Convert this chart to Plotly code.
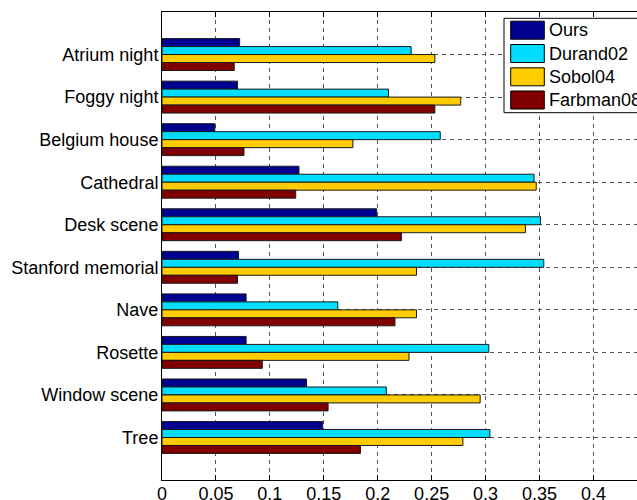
import plotly.graph_objects as go

# Scenes, listed top to bottom
scenes = ["Atrium night", "Foggy night", "Belgium house", "Cathedral", "Desk scene",
          "Stanford memorial", "Nave", "Rosette", "Window scene", "Tree"]

ours = [0.072, 0.070, 0.049, 0.127, 0.199, 0.071, 0.078, 0.078, 0.134, 0.149]
durand02 = [0.231, 0.210, 0.258, 0.345, 0.351, 0.354, 0.163, 0.303, 0.208, 0.304]
sobol04 = [0.253, 0.277, 0.177, 0.347, 0.337, 0.236, 0.236, 0.229, 0.295, 0.279]
farbman08 = [0.067, 0.253, 0.076, 0.124, 0.222, 0.070, 0.216, 0.093, 0.154, 0.184]

series_names = ["Ours", "Durand02", "Sobol04", "Farbman08"]
series_values = [ours, durand02, sobol04, farbman08]
series_colors = ["#000090", "#00DDFF", "#FFCC00", "#800000"]

x_ticks = [0, 0.05, 0.1, 0.15, 0.2, 0.25, 0.3, 0.35, 0.4]

W, H = 637, 500
ML, MR, MT, MB = 162, 0, 12, 20
PW, PH = W - ML - MR, H - MT - MB
FONT = dict(family="Liberation Sans, Arial, sans-serif", size=18, color="black")

fig = go.Figure()
for name, vals, col in zip(series_names, series_values, series_colors):
    fig.add_trace(go.Bar(
        y=scenes, x=vals, name=name, orientation="h",
        marker=dict(color=col, line=dict(color="#1a1a1a", width=1)),
        showlegend=False,
    ))

# Legend drawn as a boxed key in the upper right corner
def px_x(px):
    return (px - ML) / PW

def px_y(py):
    return (H - MB - py) / PH

shapes = [dict(type="rect", xref="paper", yref="paper",
               x0=px_x(504), x1=px_x(700), y0=px_y(112.7), y1=px_y(18.3),
               fillcolor="white", line=dict(color="black", width=1), layer="above")]
annotations = []
row_centers = [30.2, 53.5, 76.8, 100.0]
for name, col, cy in zip(series_names, series_colors, row_centers):
    shapes.append(dict(type="rect", xref="paper", yref="paper",
                       x0=px_x(510.7), x1=px_x(544.3), y0=px_y(cy + 9), y1=px_y(cy - 9),
                       fillcolor=col, line=dict(color="black", width=1), layer="above"))
    annotations.append(dict(xref="paper", yref="paper", x=px_x(546.5), y=px_y(cy),
                            text=name, showarrow=False, xanchor="left", yanchor="middle",
                            font=FONT))

fig.update_layout(
    width=W, height=H,
    margin=dict(l=ML, r=MR, t=MT, b=MB, autoexpand=False),
    paper_bgcolor="white", plot_bgcolor="white",
    barmode="group", bargap=0.25, bargroupgap=0,
    font=FONT,
    shapes=shapes, annotations=annotations,
    xaxis=dict(range=[0, PW / 1078.5], tickvals=x_ticks, ticktext=[f"{v:g}" for v in x_ticks],
               showgrid=True, gridcolor="#555555", griddash="4px,4px", gridwidth=1,
               showline=True, linecolor="black", linewidth=1, mirror="ticks",
               ticks="inside", ticklen=5, tickcolor="black", zeroline=False,
               automargin=False, tickfont=FONT, ticklabelstandoff=-3),
    yaxis=dict(range=[9.999, -1], showgrid=True, gridcolor="#555555", griddash="4px,4px",
               gridwidth=1, showline=True, linecolor="black", linewidth=1,
               ticks="", zeroline=False, automargin=False, tickfont=FONT,
               ticklabelstandoff=-1),
)

fig.write_html("out.html")
